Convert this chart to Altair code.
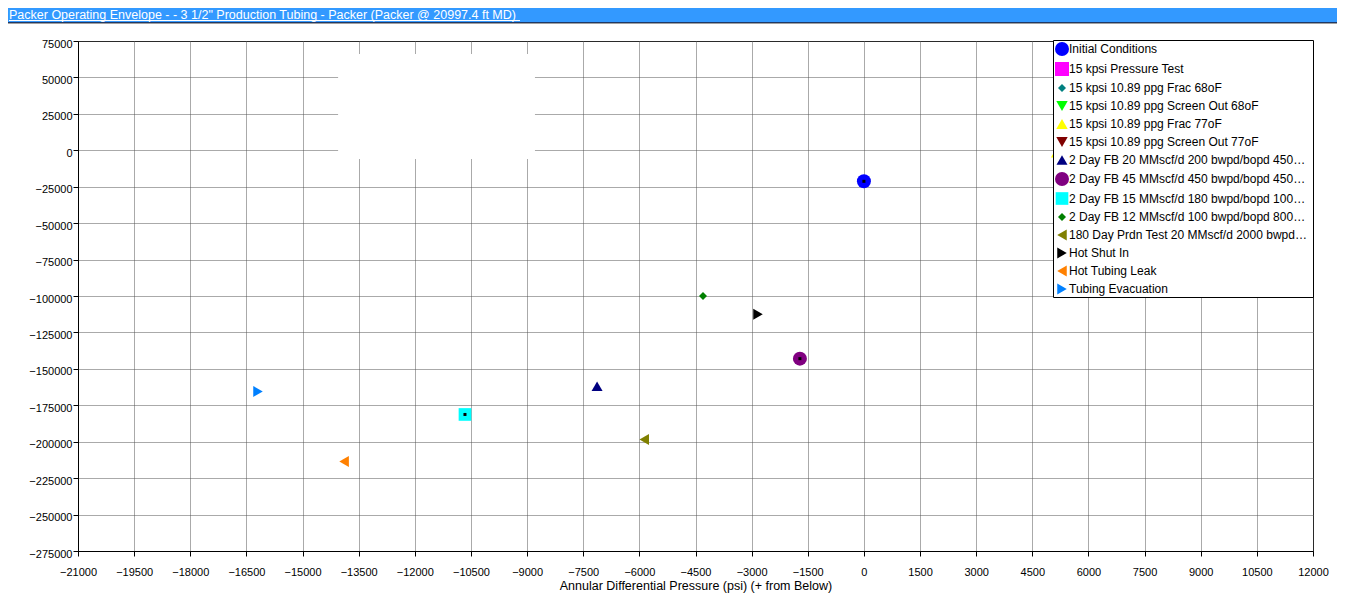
import altair as alt
import pandas as pd

title_text = 'Packer Operating Envelope -  - 3 1/2" Production Tubing  - Packer (Packer @ 20997.4 ft MD)'

series = [
    "Initial Conditions",
    "15 kpsi Pressure Test",
    "15 kpsi 10.89 ppg Frac 68oF",
    "15 kpsi 10.89 ppg Screen Out 68oF",
    "15 kpsi 10.89 ppg Frac 77oF",
    "15 kpsi 10.89 ppg Screen Out 77oF",
    "2 Day  FB 20 MMscf/d 200 bwpd/bopd 4500 F",
    "2 Day  FB 45 MMscf/d 450 bwpd/bopd 4500 F",
    "2 Day  FB 15 MMscf/d 180 bwpd/bopd 1000 F",
    "2 Day  FB 12 MMscf/d 100 bwpd/bopd 8000 F",
    "180 Day  Prdn Test 20 MMscf/d 2000 bwpd/bopd",
    "Hot Shut In",
    "Hot Tubing Leak",
    "Tubing Evacuation",
]
# annular differential pressure (psi)
x_psi = [0, 8500, 7500, 9000, 5150, 9500, -7130, -1710, -10660, -4300, -5870, -2830, -13890, -16190]
# axial load (lbf)
y_load = [-21300, 40000, 20000, 10000, -1500, 0, -162000, -143000, -181300, -100000, -198500, -112500, -213600, -165500]

colors = ["#0000FF", "#FF00FF", "#008080", "#00FF00", "#FFFF00", "#800000", "#000080",
          "#800080", "#00FFFF", "#008000", "#808000", "#000000", "#FF8000", "#0080FF"]
shapes = ["circle", "square", "diamond", "triangle-down", "triangle-up", "triangle-down", "triangle-up",
          "circle", "square", "diamond", "triangle-left", "triangle-right", "triangle-left", "triangle-right"]
sizes = [196, 196, 64, 130, 130, 130, 121, 196, 160, 64, 121, 121, 121, 121]
dotted = ["Initial Conditions", "15 kpsi Pressure Test",
          "2 Day  FB 45 MMscf/d 450 bwpd/bopd 4500 F", "2 Day  FB 15 MMscf/d 180 bwpd/bopd 1000 F"]

# blank (white) patch visible at the top of the plot
blank_x = [-14050, -8790]
blank_y = [-6000, 66000]

x_ticks = list(range(-21000, 12001, 1500))
y_ticks = list(range(-275000, 75001, 25000))

df = pd.DataFrame({"series": series, "x": x_psi, "y": y_load})
dots_df = df[df["series"].isin(dotted)]
blank_df = pd.DataFrame({"x": [blank_x[0]], "x2": [blank_x[1]], "y": [blank_y[0]], "y2": [blank_y[1]]})

xscale = alt.Scale(domain=[-21000, 12000], nice=False, zero=False)
yscale = alt.Scale(domain=[-275000, 75000], nice=False, zero=False)

font = "Liberation Sans"

blank = alt.Chart(blank_df).mark_rect(color="white", opacity=1).encode(
    x=alt.X("x:Q", scale=xscale), x2="x2:Q",
    y=alt.Y("y:Q", scale=yscale), y2="y2:Q",
)

points = alt.Chart(df).mark_point(filled=True, opacity=1).encode(
    x=alt.X("x:Q", scale=xscale,
            axis=alt.Axis(values=x_ticks, format="d", tickCount=40,
                          title="Annular Differential Pressure (psi) (+ from Below)",
                          titleFontSize=12.5,
                          labelPadding=10, titlePadding=2, labelFlush=False, labelOverlap=False)),
    y=alt.Y("y:Q", scale=yscale,
            axis=alt.Axis(values=y_ticks, format="d", tickCount=30, title=None,
                          labelPadding=1, labelOffset=3,
                          labelFlush=False, labelOverlap=False)),
    color=alt.Color("series:N", scale=alt.Scale(domain=series, range=colors),
                    legend=alt.Legend(title=None, orient="none", legendX=975, legendY=-1,
                                      fillColor="white", strokeColor="black", padding=2,
                                      labelFont=font, labelFontSize=12, labelColor="black",
                                      labelLimit=243, rowPadding=6, symbolStrokeWidth=0,
                                      labelOffset=0)),
    shape=alt.Shape("series:N", scale=alt.Scale(domain=series, range=shapes)),
    size=alt.Size("series:N", scale=alt.Scale(type="ordinal", domain=series, range=sizes)),
)

dots = alt.Chart(dots_df).mark_square(size=9, color="black", opacity=1).encode(
    x=alt.X("x:Q", scale=xscale),
    y=alt.Y("y:Q", scale=yscale),
)

tdf = pd.DataFrame({"t": [title_text]})
bar = alt.Chart(tdf).mark_rect(color="#3399FF").encode(
    x=alt.value(-70), x2=alt.value(1259), y=alt.value(-33), y2=alt.value(-19))
bar_line = alt.Chart(tdf).mark_rule(color="#1F3864", strokeWidth=1).encode(
    x=alt.value(-70), x2=alt.value(1259), y=alt.value(-18.5))
bar_line2 = alt.Chart(tdf).mark_rule(color="#A0A0A0", strokeWidth=1).encode(
    x=alt.value(-70), x2=alt.value(1259), y=alt.value(-17.5))
bar_text = alt.Chart(tdf).mark_text(align="left", baseline="alphabetic", color="white",
                                    font=font, fontSize=12.5).encode(
    x=alt.value(-69), y=alt.value(-22.5), text="t:N")
underline = alt.Chart(tdf).mark_rule(color="white", strokeWidth=1).encode(
    x=alt.value(-69), x2=alt.value(442), y=alt.value(-20.5))

chart = alt.layer(blank, points, dots, bar, bar_line, bar_line2, bar_text, underline).properties(
    width=1235, height=510,
    autosize=alt.AutoSizeParams(type="none"),
    padding={"left": 70, "top": 33, "right": 24, "bottom": 45},
).configure_view(
    stroke="black", strokeWidth=1
).configure_axis(
    domainColor="black", tickColor="black", tickSize=5,
    labelColor="black", labelFont=font, labelFontSize=11,
    titleColor="black", titleFont=font, titleFontSize=11, titleFontWeight="normal",
    gridColor="#555555", gridDash=[1, 1], gridWidth=1,
)

chart.save("out.html", embed_options={"renderer": "svg", "actions": False})
